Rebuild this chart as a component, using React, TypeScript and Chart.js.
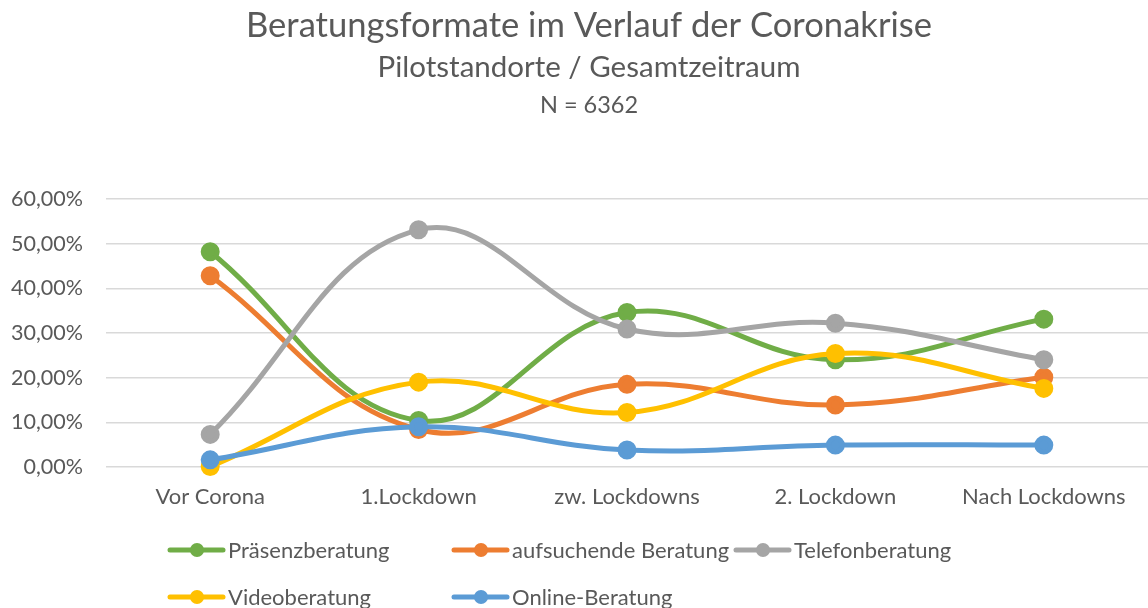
import React, { useEffect, useRef } from "react";
import { Chart, registerables } from "chart.js";

Chart.register(...registerables);

// ---- data ----
const categories = ["Vor Corona", "1.Lockdown", "zw. Lockdowns", "2. Lockdown", "Nach Lockdowns"];
const praesenzberatung = [48.2, 10.4, 34.6, 24.0, 33.1];
const aufsuchendeBeratung = [42.8, 8.4, 18.5, 13.9, 20.1];
const telefonberatung = [7.3, 53.1, 30.9, 32.2, 24.0];
const videoberatung = [0.1, 19.0, 12.2, 25.4, 17.6];
const onlineBeratung = [1.6, 9.0, 3.8, 4.9, 4.9];
const seriesNames = ["Präsenzberatung", "aufsuchende Beratung", "Telefonberatung", "Videoberatung", "Online-Beratung"];
const seriesColors = ["#70AD47", "#ED7D31", "#A5A5A5", "#FFC000", "#5B9BD5"];
const yMin = 0;
const yMax = 60;
const yStep = 10;
const titleLines = ["Beratungsformate im Verlauf der Coronakrise", "Pilotstandorte / Gesamtzeitraum", "N = 6362"];

const FONT = "Lato, 'Open Sans', sans-serif";
const TEXT = "#595959";

const titlePlugin = {
  id: "excelTitle",
  afterDraw(chart: any) {
    const ctx = chart.ctx;
    ctx.save();
    ctx.fillStyle = TEXT;
    ctx.textAlign = "center";
    ctx.textBaseline = "alphabetic";
    const specs = [
      { size: 34.6, y: 37 },
      { size: 29.5, y: 77 },
      { size: 23.5, y: 113 },
    ];
    titleLines.forEach((t, i) => {
      ctx.font = `${specs[i].size}px ${FONT}`;
      ctx.fillText(t, 589, specs[i].y);
    });
    ctx.restore();
  },
};

const legendPlugin = {
  id: "excelLegend",
  afterDraw(chart: any) {
    const ctx = chart.ctx;
    const slots = [
      { x: 170, y: 550 },
      { x: 454, y: 550 },
      { x: 736, y: 550 },
      { x: 170, y: 597 },
      { x: 454, y: 597 },
    ];
    ctx.save();
    seriesNames.forEach((name, i) => {
      const s = slots[i];
      ctx.strokeStyle = seriesColors[i];
      ctx.lineWidth = 5;
      ctx.lineCap = "round";
      ctx.beginPath();
      ctx.moveTo(s.x, s.y);
      ctx.lineTo(s.x + 53, s.y);
      ctx.stroke();
      ctx.fillStyle = seriesColors[i];
      ctx.beginPath();
      ctx.arc(s.x + 27, s.y, 7, 0, Math.PI * 2);
      ctx.fill();
      ctx.fillStyle = TEXT;
      ctx.font = `22px ${FONT}`;
      ctx.textAlign = "left";
      ctx.textBaseline = "middle";
      ctx.fillText(name, s.x + 58, s.y + 1);
    });
    ctx.restore();
  },
};

export default function App() {
  const canvasRef = useRef<HTMLCanvasElement | null>(null);

  useEffect(() => {
    if (!canvasRef.current) return;
    const allSeries = [praesenzberatung, aufsuchendeBeratung, telefonberatung, videoberatung, onlineBeratung];
    const chart = new Chart(canvasRef.current, {
      type: "line",
      data: {
        labels: categories,
        datasets: allSeries.map((d, i) => ({
          label: seriesNames[i],
          data: d,
          borderColor: seriesColors[i],
          backgroundColor: seriesColors[i],
          pointBackgroundColor: seriesColors[i],
          pointBorderColor: seriesColors[i],
          borderWidth: 5,
          pointRadius: 7,
          pointHoverRadius: 7,
          tension: 0.4,
          fill: false,
          clip: false,
          order: allSeries.length - i,
        })),
      },
      options: {
        responsive: false,
        animation: false,
        layout: { autoPadding: false, padding: { top: 199, left: 0, right: 0, bottom: 0 } },
        plugins: {
          legend: { display: false },
          title: { display: false },
          tooltip: { enabled: false },
        },
        scales: {
          x: {
            offset: true,
            grid: { display: false, drawTicks: false },
            border: { display: false },
            ticks: {
              color: TEXT,
              font: { family: FONT, size: 22 },
              padding: 17,
              maxRotation: 0,
              autoSkip: false,
            },
            afterFit(scale: any) {
              scale.height = 141;
              scale.paddingRight = 0;
              scale.paddingLeft = 0;
            },
          },
          y: {
            min: yMin,
            max: yMax,
            grid: { color: "#D9D9D9", lineWidth: 1.5, drawTicks: false },
            border: { display: false },
            ticks: {
              stepSize: yStep,
              color: TEXT,
              font: { family: FONT, size: 21.5 },
              padding: 23,
              callback: (v: any) => Number(v).toFixed(2).replace(".", ",") + "%",
            },
            afterFit(scale: any) {
              scale.width = 106;
            },
          },
        },
      },
      plugins: [titlePlugin, legendPlugin],
    });
    return () => chart.destroy();
  }, []);

  return (
    <div style={{ position: "fixed", left: 0, top: 0, width: 1148, height: 608, background: "#fff" }}>
      <canvas ref={canvasRef} width={1148} height={608} />
    </div>
  );
}
